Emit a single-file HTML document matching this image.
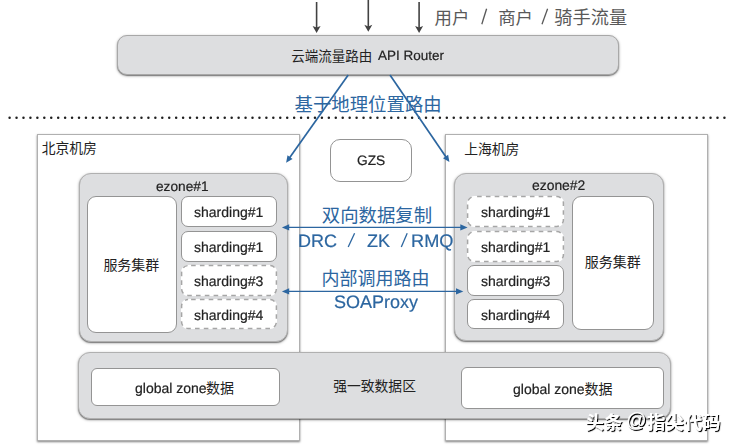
<!DOCTYPE html>
<html lang="zh-CN">
<head>
<meta charset="utf-8">
<title>ezone multi-datacenter architecture</title>
<style>
html,body{margin:0;padding:0;background:#fff;}
body{width:732px;height:445px;overflow:hidden;position:relative;font-family:"Liberation Sans",sans-serif;}
#stage{position:absolute;left:0;top:0;width:732px;height:445px;overflow:hidden;background:#fff;}
.b{position:absolute;box-sizing:content-box;}
.t{position:absolute;white-space:pre;text-rendering:geometricPrecision;font-kerning:normal;-webkit-text-stroke:0.2px currentColor;-webkit-font-smoothing:antialiased;will-change:transform;font-family:"Liberation Sans",sans-serif;z-index:3;}
.wm{color:#fff;text-shadow:1px 1px 0.7px #000,1px 1px 0 #000;}
svg.ov{position:absolute;left:0;top:0;z-index:2;}
svg.ov text{font-family:"Liberation Sans","Noto Sans CJK SC",sans-serif;}
</style>
</head>
<body>
<div id="stage">
<div class="b router" style="left:117px;top:35px;width:500px;height:38px;border-radius:10px;background:#dddee0;border:1px solid #a8a8a8;box-shadow:0 1px 1px rgba(0,0,0,.35),0 1px 3px rgba(0,0,0,.35);"></div>
<div class="b room beijing" style="left:37px;top:134px;width:261px;height:305px;border-radius:0px;background:#fff;border:1px solid #b0b0b0;box-shadow:0 1px 2px rgba(0,0,0,.5);"></div>
<div class="b room shanghai" style="left:445px;top:134px;width:261px;height:305px;border-radius:0px;background:#fff;border:1px solid #b0b0b0;box-shadow:0 1px 2px rgba(0,0,0,.5);"></div>
<div class="b gzs" style="left:330px;top:139px;width:80px;height:41px;border-radius:10px;background:#fff;border:1px solid #949494;"></div>
<div class="b ezone ezone1" style="left:79px;top:173px;width:207px;height:167px;border-radius:12px;background:#dddee0;border:1px solid #b0b0b0;box-shadow:0 1px 1px rgba(0,0,0,.35),0 1px 3px rgba(0,0,0,.35);"></div>
<div class="b ezone ezone2" style="left:454px;top:173px;width:208px;height:166px;border-radius:12px;background:#dddee0;border:1px solid #b0b0b0;box-shadow:0 1px 1px rgba(0,0,0,.35),0 1px 3px rgba(0,0,0,.35);"></div>
<div class="b cluster" style="left:87px;top:196px;width:88px;height:135px;border-radius:9px;background:#fff;border:1px solid #949494;"></div>
<div class="b cluster" style="left:572px;top:196px;width:80px;height:132px;border-radius:9px;background:#fff;border:1px solid #949494;"></div>
<div class="b shard" style="left:181px;top:196px;width:94px;height:29px;border-radius:7px;background:#fff;border:1px solid #949494;"></div>
<div class="b shard" style="left:467px;top:196px;width:95px;height:29px;border-radius:7px;background:#fff;border:1px solid transparent;"></div>
<div class="b shard" style="left:181px;top:231px;width:94px;height:29px;border-radius:7px;background:#fff;border:1px solid #949494;"></div>
<div class="b shard" style="left:467px;top:231px;width:95px;height:29px;border-radius:7px;background:#fff;border:1px solid transparent;"></div>
<div class="b shard" style="left:181px;top:265px;width:94px;height:29px;border-radius:7px;background:#fff;border:1px solid transparent;"></div>
<div class="b shard" style="left:467px;top:265px;width:95px;height:29px;border-radius:7px;background:#fff;border:1px solid #949494;"></div>
<div class="b shard" style="left:181px;top:299px;width:94px;height:28px;border-radius:7px;background:#fff;border:1px solid transparent;"></div>
<div class="b shard" style="left:467px;top:299px;width:95px;height:28px;border-radius:7px;background:#fff;border:1px solid #949494;"></div>
<div class="b strong-zone" style="left:78px;top:352px;width:591px;height:65px;border-radius:12px;background:#dddee0;border:1px solid #b0b0b0;box-shadow:0 1px 1px rgba(0,0,0,.35),0 1px 3px rgba(0,0,0,.35);"></div>
<div class="b gzone" style="left:91px;top:368px;width:187px;height:36px;border-radius:6px;background:#fff;border:1px solid #949494;"></div>
<div class="b gzone" style="left:461px;top:367px;width:201px;height:40px;border-radius:6px;background:#fff;border:1px solid #949494;"></div>
<span class="t" style="left:378.4px;top:48.85px;font-size:13.5px;line-height:13.5px;color:#222;">API Router</span>
<span class="t" style="left:357.4px;top:154.45px;font-size:13.7px;line-height:13.7px;color:#222;">GZS</span>
<span class="t" style="left:156.2px;top:179.65px;font-size:13.7px;line-height:13.7px;color:#222;">ezone#1</span>
<span class="t" style="left:532.2px;top:179.25px;font-size:13.9px;line-height:13.9px;color:#222;">ezone#2</span>
<span class="t" style="left:194px;top:205px;font-size:14px;line-height:14px;color:#222;">sharding#1</span>
<span class="t" style="left:481px;top:205px;font-size:14px;line-height:14px;color:#222;">sharding#1</span>
<span class="t" style="left:194px;top:240px;font-size:14px;line-height:14px;color:#222;">sharding#1</span>
<span class="t" style="left:481px;top:240px;font-size:14px;line-height:14px;color:#222;">sharding#1</span>
<span class="t" style="left:194px;top:274px;font-size:14px;line-height:14px;color:#222;">sharding#3</span>
<span class="t" style="left:481px;top:274px;font-size:14px;line-height:14px;color:#222;">sharding#3</span>
<span class="t" style="left:194px;top:308px;font-size:14px;line-height:14px;color:#222;">sharding#4</span>
<span class="t" style="left:481px;top:308px;font-size:14px;line-height:14px;color:#222;">sharding#4</span>
<span class="t" style="left:298.3px;top:232px;font-size:18px;line-height:18px;color:#2c66a0;">DRC</span>
<span class="t" style="left:366.5px;top:232px;font-size:18px;line-height:18px;color:#2c66a0;">ZK</span>
<span class="t" style="left:411.2px;top:231.9px;font-size:18.2px;line-height:18.2px;color:#2c66a0;">RMQ</span>
<span class="t" style="left:334px;top:292.5px;font-size:18px;line-height:18px;color:#2c66a0;">SOAProxy</span>
<span class="t" style="left:134.5px;top:380.8px;font-size:14px;line-height:14px;color:#222;">global zone</span>
<span class="t" style="left:513.3px;top:381.5px;font-size:14px;line-height:14px;color:#222;">global zone</span>
<span class="t wm" style="left:625.6px;top:409.4px;font-size:20.4px;line-height:24px;">@</span>
<svg class="ov" width="732" height="445" viewBox="0 0 732 445">
<defs><filter id="wm" x="-10%" y="-20%" width="120%" height="150%"><feDropShadow dx="1.1" dy="1.1" stdDeviation="0.35" flood-color="#000" flood-opacity="1"/></filter></defs>
<path d="M316.6 2V28.9" stroke="#424242" stroke-width="1.6" fill="none"/>
<path d="M312.6 25.9L316.6 32.9L320.6 25.9L316.6 27.5Z" fill="#424242"/>
<path d="M368.3 0V27.8" stroke="#424242" stroke-width="1.6" fill="none"/>
<path d="M364.3 24.8L368.3 31.8L372.3 24.8L368.3 26.4Z" fill="#424242"/>
<path d="M419.1 2V28.9" stroke="#424242" stroke-width="1.6" fill="none"/>
<path d="M415.1 25.9L419.1 32.9L423.1 25.9L419.1 27.5Z" fill="#424242"/>
<rect x="467.6" y="196.6" width="95.8" height="29.8" rx="6.5" fill="none" stroke="#a6a6a6" stroke-width="1.5" stroke-dasharray="4.6 4.2" stroke-dashoffset="-3"/>
<rect x="467.6" y="231.6" width="95.8" height="29.8" rx="6.5" fill="none" stroke="#a6a6a6" stroke-width="1.5" stroke-dasharray="4.6 4.2" stroke-dashoffset="-3"/>
<rect x="181.6" y="265.6" width="94.8" height="29.8" rx="6.5" fill="none" stroke="#a6a6a6" stroke-width="1.5" stroke-dasharray="4.6 4.2" stroke-dashoffset="-3"/>
<rect x="181.6" y="299.6" width="94.8" height="28.8" rx="6.5" fill="none" stroke="#a6a6a6" stroke-width="1.5" stroke-dasharray="4.6 4.2" stroke-dashoffset="-3"/>
<path d="M9.6 117.7H725" stroke="#1f1f1f" stroke-width="2.5" stroke-linecap="round" stroke-dasharray="0 6.94" fill="none"/>
<path d="M348.2 75L289.24 158.26" stroke="#2c66a0" stroke-width="1.7" fill="none"/><path d="M286.1 162.7L287.5 155.36L292.56 158.94Z" fill="#2c66a0"/>
<path d="M390 75L446.33 157.51" stroke="#2c66a0" stroke-width="1.7" fill="none"/><path d="M449.4 162L443.01 158.13L448.13 154.64Z" fill="#2c66a0"/>
<path d="M287.74 227.4L461.76 227.4" stroke="#2c66a0" stroke-width="1.4" fill="none"/><path d="M467.6 227.4L460.3 230.6L460.3 224.2Z" fill="#2c66a0"/><path d="M281.9 227.4L289.2 230.6L289.2 224.2Z" fill="#2c66a0"/>
<path d="M287.74 291.4L457.46 291.4" stroke="#2c66a0" stroke-width="1.4" fill="none"/><path d="M463.3 291.4L456 294.6L456 288.2Z" fill="#2c66a0"/><path d="M281.9 291.4L289.2 294.6L289.2 288.2Z" fill="#2c66a0"/>
<text x="434.49" y="24.09" font-size="17.4" fill="#595959">用户</text>
<text x="498.14" y="24.09" font-size="17.4" fill="#595959">商户</text>
<text x="554.32" y="23.99" font-size="18.2" fill="#595959">骑手流量</text>
<path d="M481.8 24.3L486.6 8.8" stroke="#595959" stroke-width="1.3" fill="none"/>
<path d="M542 24.3L547.6 8.8" stroke="#595959" stroke-width="1.3" fill="none"/>
<text x="291.29" y="60.55" font-size="13.5" fill="#222">云端流量路由</text>
<text x="294.55" y="110.85" font-size="18.4" fill="#2c66a0">基于地理位置路由</text>
<text x="41.71" y="153.06" font-size="13.8" fill="#222">北京机房</text>
<text x="464.23" y="153.94" font-size="13.8" fill="#222">上海机房</text>
<text x="103.39" y="269.68" font-size="14" fill="#222">服务集群</text>
<text x="584.69" y="267.48" font-size="14" fill="#222">服务集群</text>
<text x="321.77" y="221.99" font-size="18.4" fill="#2c66a0">双向数据复制</text>
<path d="M348.2 247L354.6 233.2" stroke="#2c66a0" stroke-width="1.3" fill="none"/>
<path d="M401.3 247L407.2 233.2" stroke="#2c66a0" stroke-width="1.3" fill="none"/>
<text x="321.49" y="285.29" font-size="18" fill="#2c66a0">内部调用路由</text>
<text x="333.18" y="390.69" font-size="13.8" fill="#222">强一致数据区</text>
<text x="206.05" y="393.3" font-size="14" fill="#222">数据</text>
<text x="584.55" y="393.5" font-size="14" fill="#222">数据</text>
<text x="585.52" y="429.47" font-size="18.4" font-weight="bold" fill="#fff" filter="url(#wm)">头条</text>
<text x="646.91" y="429.43" font-size="18.4" font-weight="bold" fill="#fff" filter="url(#wm)">指尖代码</text>
</svg>
</div>
</body>
</html>
